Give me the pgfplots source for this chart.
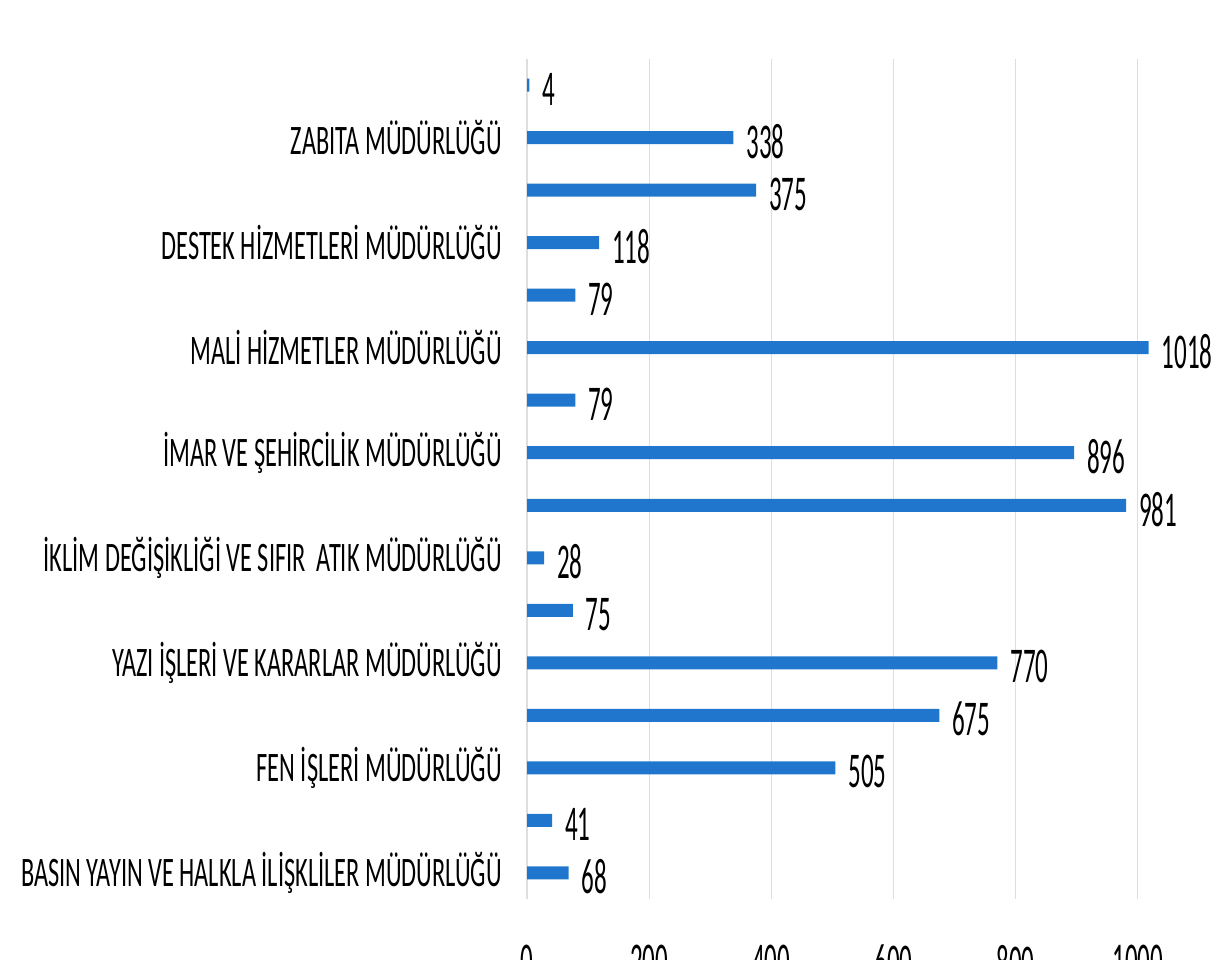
\documentclass[border=0pt]{standalone}
\usepackage{pgfplots}
\pgfplotsset{compat=1.18}
\usepackage{pgfplotstable}
\usepackage{fontspec}
\setmainfont{Carlito}
\newfontfamily\labfont[FakeStretch=0.58]{Carlito}
\newfontfamily\numfont[FakeStretch=0.5]{Carlito}
\definecolor{barblue}{RGB}{32,118,204}
\definecolor{gridgray}{RGB}{222,222,222}

% y = row from the bottom, x = count
\pgfplotstableread{
y x
0 68
1 41
2 505
3 675
4 770
5 75
6 28
7 981
8 896
9 79
10 1018
11 79
12 118
13 375
14 338
15 4
}\counts

\begin{document}
\begin{tikzpicture}
\useasboundingbox (0,0) rectangle (612pt,479.5pt);
\clip (0,0) rectangle (612pt,479.5pt);
\begin{axis}[
  scale only axis,
  at={(263.5pt,30pt)}, anchor=south west,
  width=335.9pt, height=420pt,
  xmin=0, xmax=1100, ymin=-0.5, ymax=15.5,
  xbar, bar width=6.5pt,
  xtick={0,200,...,1000},
  ytick={0,2,...,14},
  yticklabels={BASIN YAYIN VE HALKLA İLİŞKLİLER MÜDÜRLÜĞÜ, FEN İŞLERİ MÜDÜRLÜĞÜ, YAZI İŞLERİ VE KARARLAR MÜDÜRLÜĞÜ, İKLİM DEĞİŞİKLİĞİ VE SIFIR\ \ ATIK MÜDÜRLÜĞÜ, İMAR VE ŞEHİRCİLİK MÜDÜRLÜĞÜ, MALİ HİZMETLER MÜDÜRLÜĞÜ, DESTEK HİZMETLERİ MÜDÜRLÜĞÜ, ZABITA MÜDÜRLÜĞÜ},
  yticklabel style={font=\labfont\fontsize{21}{22}\selectfont, xshift=-9pt},
  xticklabel style={font=\numfont\fontsize{25}{26}\selectfont, yshift=-19.5pt},
  /pgf/number format/assume math mode=true,
  /pgf/number format/1000 sep={},
  major tick length=0pt,
  xmajorgrids, grid style={gridgray, line width=0.6pt},
  axis x line*=bottom, axis y line*=left,
  x axis line style={draw=none},
  y axis line style={gridgray, line width=0.8pt},
  nodes near coords,
  nodes near coords style={font=\numfont\fontsize{25}{26}\selectfont, anchor=west, xshift=3pt, yshift=-2pt, black},
  clip=false,
]
\addplot[fill=barblue, draw=none] table[x=x, y=y] {\counts};
\end{axis}
\end{tikzpicture}
\end{document}
